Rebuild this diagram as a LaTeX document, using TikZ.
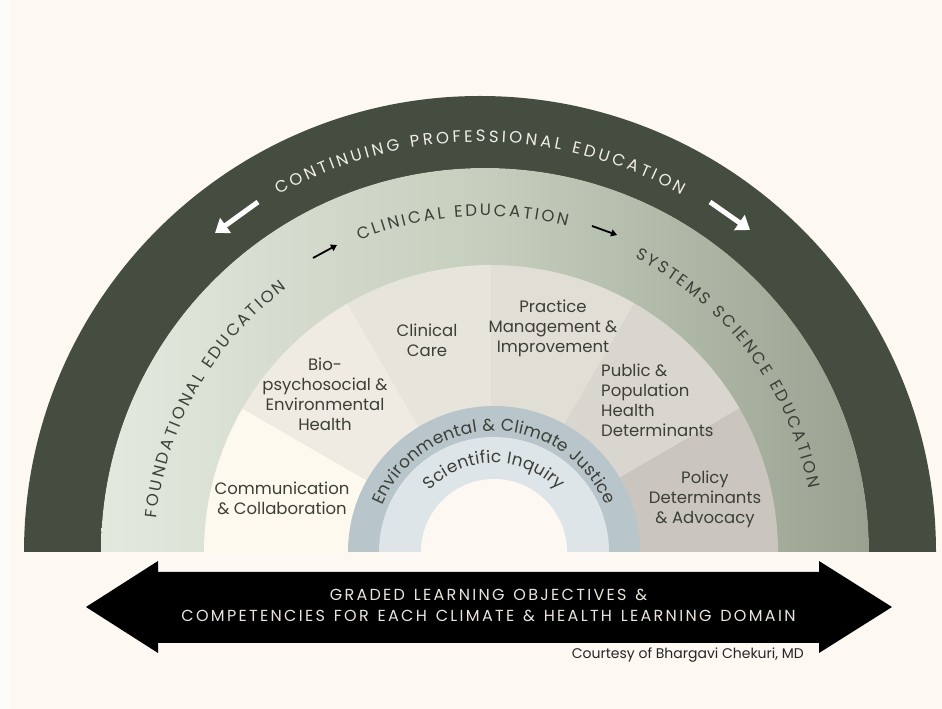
\documentclass[tikz,border=0pt]{standalone}
\usepackage{fontspec}
\setmainfont{Poppins}
\usetikzlibrary{arrows.meta}
\definecolor{bgcream}{HTML}{FDF8F2}
\definecolor{darkring}{HTML}{454C40}
\definecolor{greenL}{HTML}{E3E9DF}
\definecolor{greenM}{HTML}{C6CEBD}
\definecolor{greenR}{HTML}{99A290}
\definecolor{wedgeA}{HTML}{FDF9EE}
\definecolor{wedgeB}{HTML}{EFEBE2}
\definecolor{wedgeC}{HTML}{E7E4DB}
\definecolor{wedgeD}{HTML}{E1DED6}
\definecolor{wedgeE}{HTML}{D9D6CF}
\definecolor{wedgeF}{HTML}{CAC6BF}
\definecolor{bluering}{HTML}{B8C5CB}
\definecolor{lightblue}{HTML}{DEE5E9}
\definecolor{labeltext}{HTML}{3C3F37}
\definecolor{ringtext}{HTML}{F0EEE8}
\definecolor{arrowtext}{HTML}{E9E4DC}
\makeatletter
\newdimen\atsum \newdimen\atcum \newdimen\atw
\newcommand\at@measure[1]{%
  \pgfinterruptpicture\global\setbox1=\hbox{\normalfont\at@fmt#1}\endpgfinterruptpicture
  \atw=\wd1\relax}
% #1 cx, #2 cy, #3 radius, #4 middle angle, #5 tracking (pt), #6 format, #7 tokens
\newcommand\arctext[7]{%
  \begingroup
  \def\at@fmt{#6}%
  \atsum=0pt
  \@tfor\at@c:=#7\do{%
    \at@measure{\at@c}%
    \advance\atsum by \atw
    \advance\atsum by #5pt
  }%
  \advance\atsum by -#5pt
  \edef\at@sumnum{\strip@pt\atsum}%
  \pgfmathsetmacro\at@ang{#4+0.5*\at@sumnum/(#3)*57.29578}%
  \atcum=0pt
  \@tfor\at@c:=#7\do{%
    \at@measure{\at@c}%
    \advance\atcum by 0.5\atw
    \edef\at@cumnum{\strip@pt\atcum}%
    \pgfmathsetmacro\at@th{\at@ang-\at@cumnum/(#3)*57.29578}%
    \node[inner sep=0pt,anchor=base,rotate=\at@th-90] at ([shift={(#1,#2)}]\at@th:#3) {\at@fmt\at@c};
    \advance\atcum by 0.5\atw
    \advance\atcum by #5pt
  }%
  \endgroup
}
\newcommand\tracked[2]{\@tfor\tr@c:=#2\do{\tr@c\kern#1pt}\kern-#1pt}
\makeatother
\tikzset{
  wedgelabel/.style={inner sep=0pt, text=labeltext, align=center, font=\fontsize{16.5}{20}\selectfont},
  whitearrow/.style={white, line width=5pt, -{Triangle[length=13pt,width=18pt]}},
  smallarrow/.style={black, line width=1.8pt, -{Triangle[length=6pt,width=7pt]}},
  bottomtext/.style={anchor=base, text=arrowtext, font=\fontsize{16}{16}\selectfont, inner sep=0pt},
}
\begin{document}
\begin{tikzpicture}[x=1pt,y=1pt]
\useasboundingbox (0,0) rectangle (942,709);
\fill[bgcream] (0,0) rectangle (942,709);
\fill[white!60!bgcream] (0,0) rectangle (10,709);
% outer dark ring
\fill[darkring] (24,157) arc[start angle=180,end angle=0,radius=456] -- cycle;
% green band
\fill[left color=greenL, right color=greenR, middle color=greenM] (101,157) arc[start angle=180,end angle=0,radius=384] -- cycle;
% wedges
\fill[wedgeA] (491,157) -- +(180:287) arc[start angle=180,end angle=150,radius=287] -- cycle;
\fill[wedgeB] (491,157) -- +(150:287) arc[start angle=150,end angle=120,radius=287] -- cycle;
\fill[wedgeC] (491,157) -- +(120:287) arc[start angle=120,end angle=90,radius=287] -- cycle;
\fill[wedgeD] (491,157) -- +(90:287) arc[start angle=90,end angle=60,radius=287] -- cycle;
\fill[wedgeE] (491,157) -- +(60:287) arc[start angle=60,end angle=30,radius=287] -- cycle;
\fill[wedgeF] (491,157) -- +(30:287) arc[start angle=30,end angle=0,radius=287] -- cycle;
% inner rings
\fill[bluering] (348,157) arc[start angle=180,end angle=0,radius=146] -- cycle;
\fill[lightblue] (379,157) arc[start angle=180,end angle=0,radius=115] -- cycle;
\fill[bgcream] (421,157) arc[start angle=180,end angle=0,radius=73] -- cycle;

% curved texts
\arctext{480}{157}{410}{90}{3.2}{\fontsize{16.5}{16.5}\selectfont\color{ringtext}}{CONTINUING~PROFESSIONAL~EDUCATION}
\arctext{485}{157}{336}{93.9}{2.6}{\fontsize{16.5}{16.5}\selectfont\color{labeltext}}{CLINICAL~EDUCATION}
\arctext{485}{157}{330}{150.5}{2.5}{\fontsize{16.5}{16.5}\selectfont\color{labeltext}}{FOUNDATIONAL~EDUCATION}
\arctext{485}{157}{330}{37}{2.5}{\fontsize{16.5}{16.5}\selectfont\color{labeltext}}{SYSTEMS~SCIENCE~EDUCATION}
\arctext{494}{157}{121}{90}{0.3}{\fontsize{17}{17}\selectfont\color{labeltext}}{Environmental~\&~Climate~Justice}
\arctext{494}{157}{89}{90}{0.3}{\fontsize{17}{17}\selectfont\color{labeltext}}{Scientific~Inquiry}

% arrows
\coordinate (wl1) at (258,507); \coordinate (wl2) at (215,476);
\coordinate (wr1) at (710,507); \coordinate (wr2) at (750,479);
\draw[whitearrow] (wl1) -- (wl2);
\draw[whitearrow] (wr1) -- (wr2);
\coordinate (bl1) at (313,451); \coordinate (bl2) at (337,464);
\coordinate (br1) at (592,483); \coordinate (br2) at (617,474);
\draw[smallarrow] (bl1) -- (bl2);
\draw[smallarrow] (br1) -- (br2);

% wedge labels
\node[wedgelabel] (comm) at (282,211) {Communication\\\& Collaboration};
\node[wedgelabel] (bio) at (325,315) {Bio-\\psychosocial \&\\Environmental\\Health};
\node[wedgelabel] (clin) at (427,369) {Clinical\\Care};
\node[wedgelabel] (prac) at (553,381) {Practice\\Management \&\\Improvement};
\node[wedgelabel, anchor=west, align=left] (pub) at (601,309) {Public \&\\Population\\Health\\Determinants};
\node[wedgelabel] (pol) at (705,210) {Policy\\Determinants\\\& Advocacy};

% bottom double arrow
\fill[black] (86,102) -- (158,148) -- (158,137) -- (819,137) -- (819,148) -- (892,102)
   -- (819,56) -- (819,66) -- (158,66) -- (158,56) -- cycle;
\node[bottomtext] (obj1) at (488.5,108) {\tracked{2.3}{GRADED~LEARNING~OBJECTIVES~\&}};
\node[bottomtext] (obj2) at (488.5,87) {\tracked{2.3}{COMPETENCIES~FOR~EACH~CLIMATE~\&~HEALTH~LEARNING~DOMAIN}};
\node[anchor=base east, text=black!85, font=\fontsize{14}{14}\selectfont, inner sep=0pt] (credit) at (804,50) {Courtesy of Bhargavi Chekuri, MD};
\end{tikzpicture}
\end{document}
